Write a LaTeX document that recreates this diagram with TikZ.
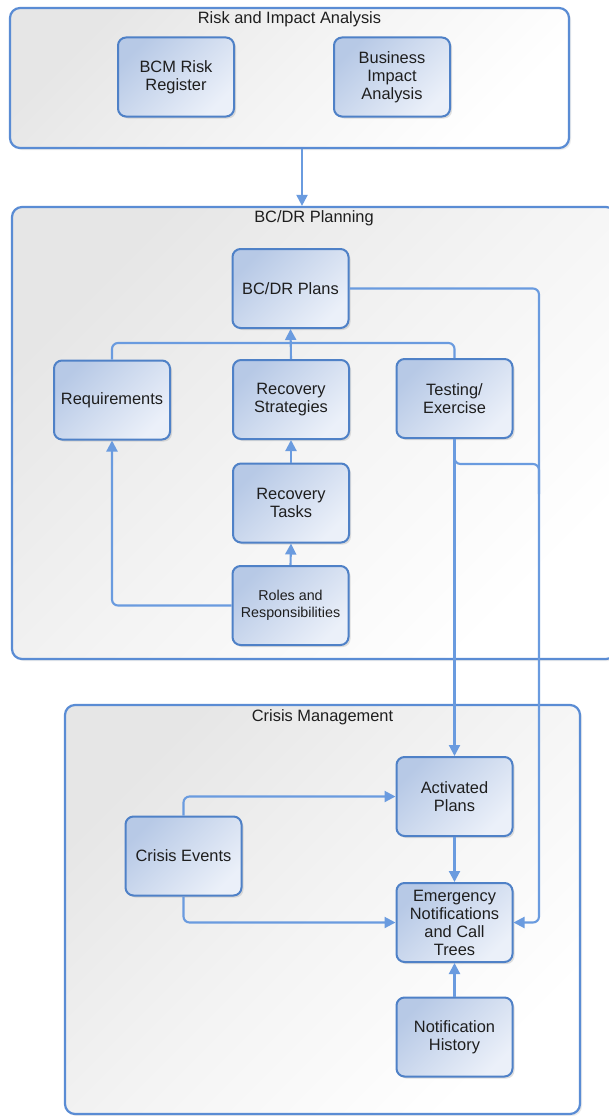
\documentclass[tikz,border=0pt]{standalone}
\usepackage{fontspec}
\setmainfont{Liberation Sans}
\usetikzlibrary{arrows.meta,shadows,calc}
\definecolor{boxline}{HTML}{4F81C7}
\definecolor{connline}{HTML}{6A9BDF}
\definecolor{contline}{HTML}{5A8CD4}
\definecolor{boxtop}{HTML}{B7C9E6}
\definecolor{boxbot}{HTML}{EBF0F9}
\definecolor{conttop}{HTML}{E6E6E6}
\definecolor{txt}{HTML}{1E1E1E}
\begin{document}
\begin{tikzpicture}[x=1pt,y=-1pt,
  box/.style={draw=boxline, line width=2pt, rounded corners=8pt,
    minimum width=116pt, minimum height=79pt, inner sep=2pt, align=center,
    text=txt, font=\fontsize{16.4}{18}\selectfont,
    top color=boxtop, bottom color=boxbot, shading angle=45,
    drop shadow={shadow xshift=2pt, shadow yshift=-2pt, fill=black!35, opacity=0.35}},
  smallbox/.style={box, font=\fontsize{14.3}{17}\selectfont},
  container/.style={draw=contline, line width=2.2pt, rounded corners=10pt,
    top color=conttop, bottom color=white, middle color=conttop!45!white,
    shading angle=45, inner sep=0pt,
    drop shadow={shadow xshift=2pt, shadow yshift=-2pt, fill=black!25, opacity=0.3}},
  ctitle/.style={text=txt, font=\fontsize{16.4}{18}\selectfont, inner sep=0pt},
  conn/.style={draw=connline, line width=2.1pt, rounded corners=6pt,
    -{Triangle[length=11pt,width=11pt]}},
  connplain/.style={draw=connline, line width=2.1pt, rounded corners=6pt}
]
\useasboundingbox (0,0) rectangle (609,1116);
\clip (0,0) rectangle (609,1116);
\fill[white] (0,0) rectangle (609,1116);

% containers
\node[container, minimum width=559pt, minimum height=140pt] (c1) at (289.5,78) {};
\node[container, minimum width=604pt, minimum height=452pt] (c2) at (314,433) {};
\node[container, minimum width=515pt, minimum height=409pt] (c3) at (322.5,909.5) {};
\node[ctitle] (t1) at (289.5,19) {Risk and Impact Analysis};
\node[ctitle] (t2) at (314,218) {BC/DR Planning};
\node[ctitle] (t3) at (322.5,717) {Crisis Management};

% boxes
\node[box] (bcm) at (176,77) {BCM Risk\\Register};
\node[box] (bia) at (392,77) {Business\\Impact\\Analysis};
\node[box] (plans) at (290.5,288.5) {BC/DR Plans};
\node[box] (req) at (112,400) {Requirements};
\node[box] (strat) at (291,399.5) {Recovery\\Strategies};
\node[box] (test) at (454.5,398.5) {Testing/\\Exercise};
\node[box] (tasks) at (291,503) {Recovery\\Tasks};
\node[smallbox] (roles) at (290.5,605.5) {Roles and\\Responsibilities};
\node[box] (act) at (454.5,796.5) {Activated\\Plans};
\node[box] (crisis) at (183.5,856) {Crisis Events};
\node[box] (emerg) at (454.5,922.5) {Emergency\\Notifications\\and Call\\Trees};
\node[box] (hist) at (454.5,1037) {Notification\\History};

% helper coordinates
\coordinate (a1) at (302,0);
\coordinate (busy) at (0,343);
\coordinate (rx) at (539,0);
\coordinate (br) at (539,464);

% connectors
\draw[conn] (c1.south -| a1) -- (c2.north -| a1);
\draw[connplain] (req.north) |- (busy -| test.north) -- (test.north);
\draw[conn] (strat.north) -- (plans.south);
\draw[conn] (tasks.north) -- (strat.south);
\draw[conn] (roles.north) -- (tasks.south);
\draw[conn] (roles.west) -| (req.south);
\draw[connplain] (test.south) |- (br) -- ++(0,30);
\draw[conn] (plans.east) -| (rx |- emerg.east) -- (emerg.east);
\draw[conn] (test.south) -- (act.north);
\draw[conn] (crisis.north) |- (act.west);
\draw[conn] (crisis.south) |- (emerg.west);
\draw[conn] (act.south) -- (emerg.north);
\draw[conn] (hist.north) -- (emerg.south);
\end{tikzpicture}
\end{document}
